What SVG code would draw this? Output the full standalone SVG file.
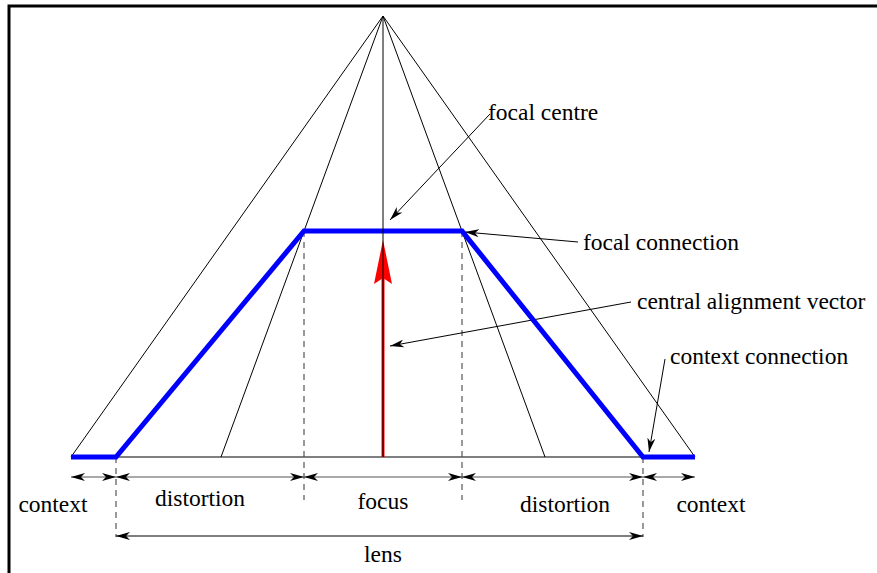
<svg xmlns="http://www.w3.org/2000/svg" width="877" height="573" viewBox="0 0 877 573">
<style>
.thin{stroke:#000;stroke-width:1;fill:none}
.blue{stroke:#0000ff;stroke-width:5;fill:none;stroke-linejoin:miter}
.dash{stroke:#555;stroke-width:1.2;stroke-dasharray:6,5;fill:none}
.dim{stroke:#555;stroke-width:1.2;fill:none;marker-start:url(#ah);marker-end:url(#ah)}
.ann{stroke:#000;stroke-width:1;fill:none;marker-end:url(#ah)}
text{font-family:"Liberation Serif","Times New Roman",serif;font-size:23.5px;fill:#000}
.c{text-anchor:middle}
</style>
<defs>
<marker id="ah" viewBox="0 0 14 8" refX="14" refY="4" markerWidth="14" markerHeight="8" markerUnits="userSpaceOnUse" orient="auto-start-reverse">
<path d="M0,0 L14,4 L0,8 L4,4 Z" fill="#000"/>
</marker>
</defs>
<rect x="0" y="0" width="877" height="573" fill="#fff"/>
<g id="frame">
<path d="M9,573 V6 H877" stroke="#000" stroke-width="3" fill="none"/>
</g>
<g id="connectors">
<path class="thin" d="M383,16 L71,457 M383,16 L695,457 M383,16 L221,457 M383,16 L545,457"/>
<path class="thin" d="M71,457 H695"/>
<path class="dash" d="M304,231 V500 M462,231 V500 M116,457 V537 M643,457 V537"/>
<line class="dim" x1="71" y1="477" x2="116" y2="477"/>
<line class="dim" x1="116" y1="477" x2="304" y2="477"/>
<line class="dim" x1="304" y1="477" x2="462" y2="477"/>
<line class="dim" x1="462" y1="477" x2="643" y2="477"/>
<line class="dim" x1="643" y1="477" x2="695" y2="477"/>
<line x1="116" y1="536" x2="643" y2="536" stroke="#000" stroke-width="1.2" marker-start="url(#ah)" marker-end="url(#ah)"/>
<line class="ann" x1="490" y1="114" x2="390" y2="220"/>
<line class="ann" x1="578" y1="242" x2="465" y2="232"/>
<line class="ann" x1="631" y1="302" x2="390" y2="346"/>
<line class="ann" x1="665" y1="359" x2="649" y2="452"/>
</g>
<g id="lens-shape">
<path class="blue" d="M71,457 H116 L304,231 H462 L643,457 H695"/>
</g>
<g id="central-vector">
<line x1="383" y1="457" x2="383" y2="276" stroke="#ff0000" stroke-width="3"/>
<path d="M383,240 L392,284 L383,278 L374,284 Z" fill="#ff0000"/>
<line class="thin" x1="383" y1="16" x2="383" y2="457"/>
</g>
<g id="labels">
<text x="488" y="120">focal centre</text>
<text x="583" y="250">focal connection</text>
<text x="637" y="309">central alignment vector</text>
<text x="670" y="364">context connection</text>
<text class="c" x="53" y="512">context</text>
<text class="c" x="200" y="506">distortion</text>
<text class="c" x="383" y="509">focus</text>
<text class="c" x="565" y="512">distortion</text>
<text class="c" x="711" y="512">context</text>
<text class="c" x="383" y="562">lens</text>
</g>
</svg>
